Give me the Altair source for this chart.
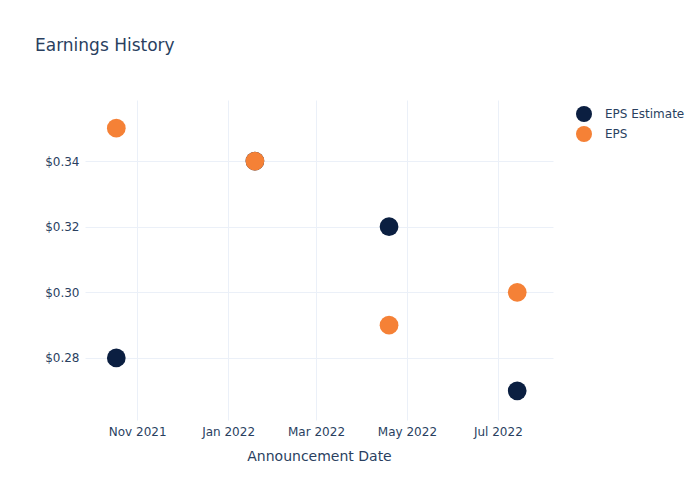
import altair as alt
import pandas as pd

dates = ["2021-10-18", "2022-01-19", "2022-04-19", "2022-07-14"]
eps_estimate = [0.28, 0.34, 0.32, 0.27]
eps_actual = [0.35, 0.34, 0.29, 0.30]
series = ["EPS Estimate", "EPS"]
colors = ["#0b1f41", "#f58136"]

rows = []
for d, e in zip(dates, eps_estimate):
    rows.append({"date": d, "value": e, "series": "EPS Estimate", "order": 0})
for d, a in zip(dates, eps_actual):
    rows.append({"date": d, "value": a, "series": "EPS", "order": 1})
df = pd.DataFrame(rows)

FONT = "DejaVu Sans"
TXT = "#2a3f5f"
GRID = "#ebf0f8"

xticks = [
    alt.DateTime(year=2021, month=11, date=1, utc=True),
    alt.DateTime(year=2022, month=1, date=1, utc=True),
    alt.DateTime(year=2022, month=3, date=1, utc=True),
    alt.DateTime(year=2022, month=5, date=1, utc=True),
    alt.DateTime(year=2022, month=7, date=1, utc=True),
]

chart = (
    alt.Chart(df)
    .mark_circle(size=350, opacity=1)
    .encode(
        x=alt.X(
            "date:T",
            title="Announcement Date",
            scale=alt.Scale(
                type="utc",
                domain=[
                    alt.DateTime(year=2021, month=9, date=27, utc=True),
                    alt.DateTime(year=2022, month=8, date=7, utc=True),
                ],
            ),
            axis=alt.Axis(
                values=xticks,
                labelExpr="utcFormat(datum.value, '%b %Y')",
                labelPadding=6,
                titlePadding=12,
            ),
        ),
        y=alt.Y(
            "value:Q",
            title=None,
            scale=alt.Scale(domain=[0.2611, 0.3586], nice=False, zero=False),
            axis=alt.Axis(values=[0.28, 0.30, 0.32, 0.34], format="$.2f", labelPadding=6),
        ),
        color=alt.Color(
            "series:N",
            scale=alt.Scale(domain=series, range=colors),
            legend=alt.Legend(
                title=None,
                orient="none",
                legendX=490,
                legendY=5,
                symbolSize=256,
                symbolType="circle",
                labelFontSize=12,
                labelColor=TXT,
                labelFont=FONT,
                rowPadding=3,
                labelOffset=12,
            ),
        ),
        order=alt.Order("order:Q"),
    )
    .properties(
        width=468,
        height=320,
        title=alt.Title(
            "Earnings History",
            anchor="start",
            frame="group",
            dx=-50,
            offset=45,
            fontSize=17,
            fontWeight="normal",
            color=TXT,
            font=FONT,
        ),
        autosize=alt.AutoSizeParams(type="none"),
        padding={"left": 85, "top": 100, "right": 147, "bottom": 80},
    )
    .configure_view(strokeWidth=0)
    .configure_axis(
        grid=True,
        gridColor=GRID,
        gridWidth=1,
        domain=False,
        ticks=False,
        labelColor=TXT,
        labelFont=FONT,
        labelFontSize=12,
        titleColor=TXT,
        titleFont=FONT,
        titleFontSize=14,
        titleFontWeight="normal",
    )
)

chart.save("out.html", embed_options={"renderer": "svg", "actions": False})
